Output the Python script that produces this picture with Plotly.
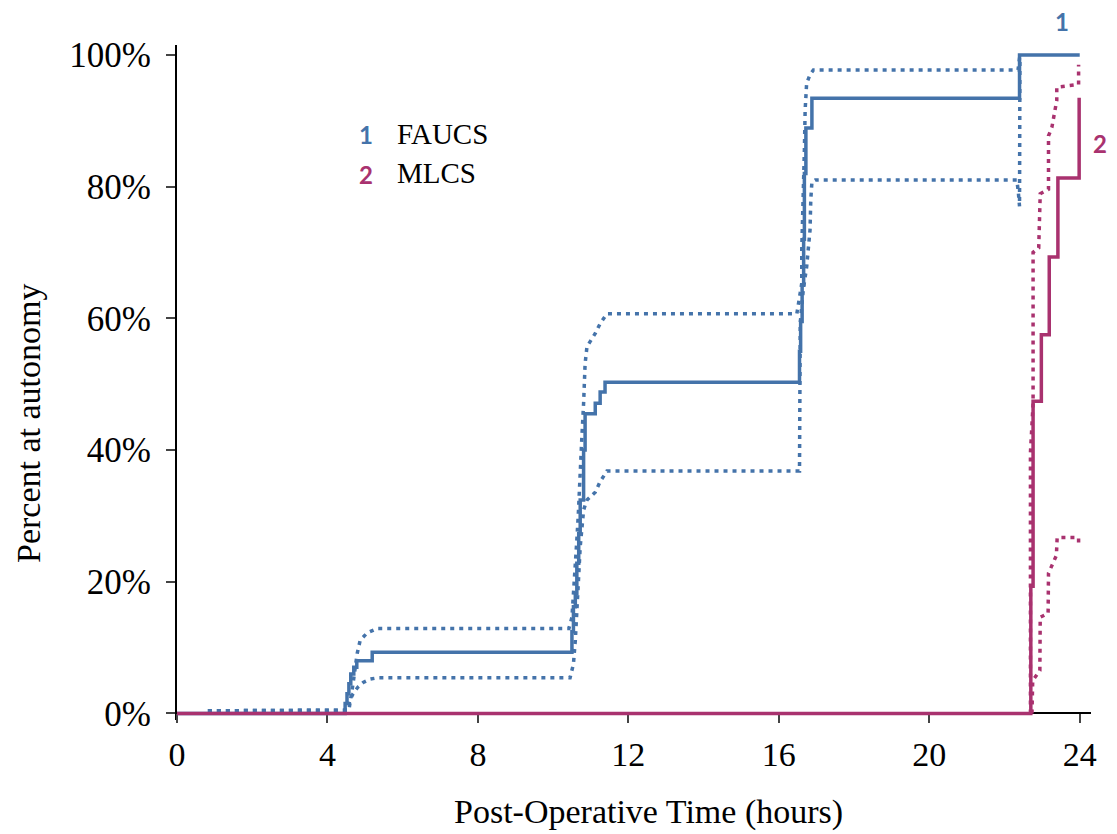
import plotly.graph_objects as go

# ---- data (hours, percent at autonomy) ----
faucs_x = [0, 4.47, 4.52, 4.57, 4.62, 4.70, 4.78, 5.19, 10.50, 10.54, 10.59, 10.63, 10.68, 10.72,
           10.81, 10.85, 11.12, 11.25, 11.38, 16.55, 16.58, 16.62, 16.66, 16.68, 16.72, 16.88, 22.40, 24]
faucs_y = [0, 1.5, 3, 4.5, 6, 7, 8, 9.3, 12.4, 16.2, 18.2, 22.8, 27.3, 32.4,
           40, 45.5, 47.1, 48.8, 50.3, 55, 59.5, 65, 72, 82, 88.9, 93.4, 100, 100]

faucs_hi_x = [0.82, 4.45, 4.57, 4.68, 4.79, 4.87, 5.05, 5.32, 10.42, 10.50, 10.54, 10.59, 10.63, 10.67,
              10.72, 10.76, 10.81, 10.85, 10.90, 11.12, 11.25, 11.43, 16.48, 16.61, 16.61, 16.64, 16.65,
              16.68, 16.70, 16.74, 16.83, 16.92, 22.36, 22.40, 22.45]
faucs_hi_y = [0.4, 0.4, 0.5, 4.5, 9.1, 11.1, 12.2, 12.9, 12.9, 14.6, 17.7, 21.7, 26.3, 30.3,
              35.4, 41.5, 47.1, 53.1, 55.7, 57.7, 59.2, 60.7, 60.7, 65.3, 70.4, 75.4, 80.5,
              85.6, 91.6, 95.7, 97.0, 97.7, 97.7, 99.5, 100]

faucs_lo_x = [0.82, 4.45, 4.52, 4.60, 4.68, 4.81, 4.95, 5.13, 5.32, 10.45, 10.54, 10.59, 10.63, 10.67,
              10.72, 10.81, 10.90, 11.12, 11.25, 11.43, 16.55, 16.57, 16.65, 16.74, 16.83, 16.85,
              16.88, 16.97, 22.33, 22.37, 22.40, 22.41]
faucs_lo_y = [0.4, 0.4, 0.5, 2, 3, 4, 4.7, 5.2, 5.4, 5.4, 7.5, 11.1, 15.2, 20.2,
              25.3, 30.9, 32.4, 33.6, 35.2, 36.8, 36.8, 59.3, 64.3, 67.8, 73.4, 78,
              80.7, 81, 81, 79, 77, 99]

mlcs_x = [0, 22.70, 22.76, 22.98, 23.19, 23.42, 23.985]
mlcs_y = [0, 19.3, 47.4, 57.5, 69.3, 81.3, 93.5]

mlcs_hi_x = [22.69, 22.69, 22.76, 22.76, 22.91, 22.95, 23.17, 23.17, 23.26, 23.39, 23.39, 23.97, 23.97]
mlcs_hi_y = [0, 39.6, 47, 70, 70.7, 78.9, 79.6, 87.7, 89, 93.1, 95.1, 95.5, 98.5]

mlcs_lo_x = [22.73, 22.75, 22.94, 22.95, 23.16, 23.17, 23.38, 23.40, 23.97, 23.97]
mlcs_lo_y = [0, 5, 6.5, 14.6, 15.2, 21.3, 24, 26.7, 26.7, 25.7]

x_ticks = [0, 4, 8, 12, 16, 20, 24]
y_ticks = [0, 20, 40, 60, 80, 100]
y_ticktext = ["0%", "20%", "40%", "60%", "80%", "100%"]

BLUE = "#4473AA"
MAG = "#A9326F"
DOT = "4px,5px"
LW = 3.5

OFF = 8  # page body margin offset
W, H = 1117 - OFF, 834 - OFF
L, T = 177 - OFF, 45 - OFF
PW, PH = 914, 675
R, B = W - L - PW, H - T - PH
X_RANGE = [0, 24.3]
Y_RANGE = [-1, 101.5]

fig = go.Figure()
fig.add_trace(go.Scatter(x=faucs_x, y=faucs_y, mode="lines", line=dict(color=BLUE, width=LW, shape="hv"),
                         showlegend=False))
fig.add_trace(go.Scatter(x=faucs_hi_x, y=faucs_hi_y, mode="lines", line=dict(color=BLUE, width=LW, dash=DOT),
                         showlegend=False))
fig.add_trace(go.Scatter(x=faucs_lo_x, y=faucs_lo_y, mode="lines", line=dict(color=BLUE, width=LW, dash=DOT),
                         showlegend=False))
fig.add_trace(go.Scatter(x=mlcs_hi_x, y=mlcs_hi_y, mode="lines", line=dict(color=MAG, width=LW, dash=DOT),
                         showlegend=False))
fig.add_trace(go.Scatter(x=mlcs_lo_x, y=mlcs_lo_y, mode="lines", line=dict(color=MAG, width=LW, dash=DOT),
                         showlegend=False))
fig.add_trace(go.Scatter(x=mlcs_x, y=mlcs_y, mode="lines", line=dict(color=MAG, width=LW, shape="hv"),
                         showlegend=False))

serif = "Liberation Serif, Times New Roman, serif"
sans = "Lato, Open Sans, sans-serif"

x_axis_pos = (0 - Y_RANGE[0]) / (Y_RANGE[1] - Y_RANGE[0])

fig.update_layout(
    width=W, height=H,
    margin=dict(l=L, r=R, t=T, b=B, autoexpand=False),
    paper_bgcolor="white", plot_bgcolor="white",
    font=dict(family=serif, color="black", size=34),
    xaxis=dict(range=X_RANGE, tickvals=x_ticks, ticks="outside", ticklen=9, tickwidth=2,
               showline=True, linecolor="black", linewidth=2, showgrid=False, zeroline=False,
               tickfont=dict(size=34), ticklabelstandoff=2, automargin=False,
               anchor="free", position=x_axis_pos, layer="below traces"),
    yaxis=dict(range=Y_RANGE, tickvals=y_ticks, ticktext=y_ticktext, ticks="outside", ticklen=9, tickwidth=2,
               showline=True, linecolor="black", linewidth=2, showgrid=False, zeroline=False,
               tickfont=dict(size=35), ticklabelstandoff=8, automargin=False, layer="below traces"),
)


def px_to_paper(px, py):
    # px, py are page pixel positions (as seen in the screenshot)
    return (px - OFF - L) / PW, 1 - (py - OFF - T) / PH


ann = [
    dict(x=366, y=135, text="<b>1</b>", color=BLUE, font=sans, size=24, anchor="center", angle=0),
    dict(x=366, y=174, text="<b>2</b>", color=MAG, font=sans, size=24, anchor="center", angle=0),
    dict(x=395, y=134, text="FAUCS", color="black", font=serif, size=29, anchor="left", angle=0),
    dict(x=395, y=173, text="MLCS", color="black", font=serif, size=29, anchor="left", angle=0),
    dict(x=1062, y=22, text="<b>1</b>", color=BLUE, font=sans, size=24, anchor="center", angle=0),
    dict(x=1100, y=143, text="<b>2</b>", color=MAG, font=sans, size=24, anchor="center", angle=0),
    dict(x=648, y=812, text="Post-Operative Time (hours)", color="black", font=serif, size=34,
         anchor="center", angle=0),
    dict(x=28, y=424, text="Percent at autonomy", color="black", font=serif, size=34,
         anchor="center", angle=-90),
]
for a in ann:
    ax, ay = px_to_paper(a["x"], a["y"])
    fig.add_annotation(x=ax, y=ay, xref="paper", yref="paper", text=a["text"], showarrow=False,
                       xanchor=a["anchor"], yanchor="middle", textangle=a["angle"],
                       font=dict(family=a["font"], size=a["size"], color=a["color"]))

fig.write_html("out.html")
